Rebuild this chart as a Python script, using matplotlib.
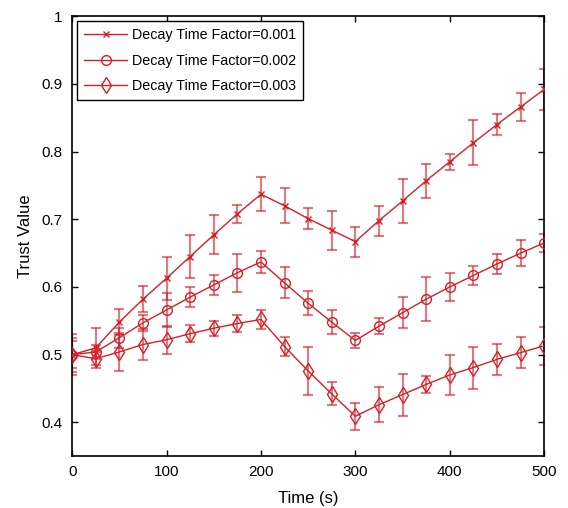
import matplotlib
matplotlib.use("Agg")
import matplotlib.pyplot as plt

plt.rcParams['font.family'] = ['Liberation Sans', 'DejaVu Sans']

time_s = [0, 25, 50, 75, 100, 125, 150, 175, 200, 225, 250, 275, 300, 325, 350, 375, 400, 425, 450, 475, 500]

trust_001 = [0.500, 0.510, 0.548, 0.582, 0.613, 0.645, 0.677, 0.708, 0.737, 0.720, 0.701, 0.684, 0.667,
             0.698, 0.727, 0.757, 0.785, 0.813, 0.840, 0.866, 0.892]
err_001 = [0.020, 0.030, 0.019, 0.019, 0.032, 0.032, 0.029, 0.013, 0.025, 0.026, 0.016, 0.029, 0.022,
           0.022, 0.033, 0.025, 0.012, 0.033, 0.015, 0.021, 0.030]

trust_002 = [0.500, 0.504, 0.525, 0.547, 0.566, 0.585, 0.603, 0.621, 0.637, 0.606, 0.576, 0.548, 0.521,
             0.542, 0.562, 0.582, 0.600, 0.617, 0.634, 0.650, 0.665]
err_002 = [0.030, 0.010, 0.015, 0.012, 0.025, 0.015, 0.015, 0.028, 0.016, 0.023, 0.018, 0.018, 0.011,
           0.012, 0.023, 0.033, 0.021, 0.014, 0.015, 0.019, 0.014]

trust_003 = [0.500, 0.494, 0.504, 0.515, 0.522, 0.531, 0.539, 0.546, 0.552, 0.512, 0.476, 0.442, 0.409,
             0.426, 0.441, 0.456, 0.470, 0.481, 0.493, 0.503, 0.513]
err_003 = [0.025, 0.010, 0.028, 0.023, 0.021, 0.013, 0.011, 0.012, 0.014, 0.014, 0.035, 0.017, 0.020,
           0.026, 0.031, 0.012, 0.030, 0.031, 0.023, 0.023, 0.028]

labels = ['Decay Time Factor=0.001', 'Decay Time Factor=0.002', 'Decay Time Factor=0.003']
color = '#d41f26'

fig = plt.figure(figsize=(5.68, 5.08), dpi=100)
ax = fig.add_axes([0.127, 0.102, 0.831, 0.866])

series = [(trust_001, err_001, 'x', 5, labels[0]),
          (trust_002, err_002, 'o', 7, labels[1]),
          (trust_003, err_003, 'd', 8.5, labels[2])]

handles = []
for vals, errs, mk, ms, lab in series:
    ax.errorbar(time_s, vals, yerr=errs, fmt='none', ecolor=color, alpha=0.6,
                elinewidth=1.5, capsize=3.6, capthick=1.5, zorder=2)
    h, = ax.plot(time_s, vals, color=color, lw=1.0, marker=mk, ms=ms,
                 mfc='none', mec=color, mew=1.0, label=lab, zorder=3)
    handles.append(h)

ax.set_xlim(0, 500)
ax.set_ylim(0.35, 1.0)
ax.set_xticks([0, 100, 200, 300, 400, 500])
ax.set_yticks([0.4, 0.5, 0.6, 0.7, 0.8, 0.9, 1.0])
ax.set_yticklabels(['0.4', '0.5', '0.6', '0.7', '0.8', '0.9', '1'])
ax.tick_params(direction='in', top=True, right=True, labelsize=11, length=4, width=1)
ax.tick_params(axis='y', pad=7)
ax.tick_params(axis='x', pad=6)
for sp in ax.spines.values():
    sp.set_linewidth(1.2)

ax.set_xlabel('Time (s)', fontsize=12, labelpad=9)
ax.set_ylabel('Trust Value', fontsize=12, labelpad=6)

leg = ax.legend(handles=handles, loc='upper left', fontsize=10.3, fancybox=False,
                edgecolor='black', framealpha=1, handlelength=3.0, handletextpad=0.35,
                borderaxespad=0.35, labelspacing=0.78, borderpad=0.5)
leg.get_frame().set_linewidth(1.0)

fig.savefig('out.png', dpi=100)
